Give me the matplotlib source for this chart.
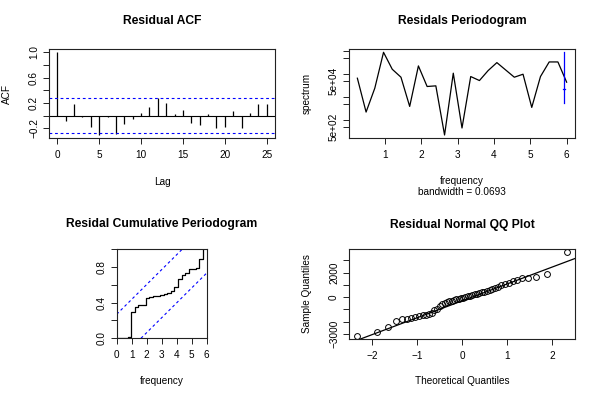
import math
from statistics import NormalDist
import numpy as np
import matplotlib
matplotlib.use("Agg")
import matplotlib.pyplot as plt
from matplotlib.ticker import FixedLocator, FixedFormatter, NullLocator

plt.rcParams['font.family'] = ['Liberation Sans', 'DejaVu Sans']

# ---------------- data ----------------
acf_lags = list(range(26))
acf_values = [1.0, -0.078, 0.19, -0.015, -0.18, -0.30, -0.02, -0.295, -0.125, -0.047,
              0.042, 0.135, 0.286, 0.20, 0.026, 0.083, -0.12, -0.15, 0.02, -0.20,
              -0.18, 0.073, -0.19, 0.04, 0.18, 0.18]
acf_conf = 0.277

spec_freq = [0.24, 0.48, 0.72, 0.96, 1.20, 1.44, 1.68, 1.92, 2.16, 2.40,
             2.64, 2.88, 3.12, 3.36, 3.60, 3.84, 4.08, 4.32, 4.56, 4.80,
             5.04, 5.28, 5.52, 5.76, 6.00]
spec_values = [65000, 2270, 24300, 847000, 158000, 71800, 3970, 220000, 28600, 30500,
               234, 107000, 468, 76700, 51600, 139000, 305000, 148000, 71800, 96600,
               3600, 76700, 326000, 326000, 43900]
bandwidth = 0.0693
spec_df = 2

cum_freq = [0.00, 0.24, 0.48, 0.72, 0.96, 1.20, 1.44, 1.68, 1.92, 2.16, 2.40, 2.64,
            2.88, 3.12, 3.36, 3.60, 3.84, 4.08, 4.32, 4.56, 4.80, 5.04, 5.28, 5.52, 5.76]
cum_values = [0.0, 0.002, 0.003, 0.011, 0.293, 0.348, 0.374, 0.376, 0.448, 0.459,
              0.47, 0.472, 0.49, 0.492, 0.51, 0.526, 0.578, 0.667, 0.707, 0.726,
              0.774, 0.775, 0.785, 0.893, 1.0]
cum_crit = 0.2694
cum_xmax = 6

qq_sample = [-3130, -2823, -2443, -1927, -1791, -1764, -1683, -1601, -1493, -1440,
             -1420, -1390, -1280, -1070, -923, -679, -543, -434, -380, -326,
             -271, -217, -163, -109, -54, -27, 27, 81, 136, 190,
             244, 299, 353, 407, 461, 516, 565, 645, 733, 841,
             977, 1086, 1194, 1303, 1411, 1547, 1601, 1640, 1860, 3650]

# ---------------- figure ----------------
W, H = 600, 400
fig = plt.figure(figsize=(6, 4), dpi=100)
fig.patch.set_facecolor('white')

TICK_FS = 7.2
LAB_FS = 7.2
TITLE_FS = 8.7
BLUE = '#0000FF'


def add_ax(l, t, r, b):
    return fig.add_axes([l / W, 1 - b / H, (r - l) / W, (b - t) / H])


def style(ax):
    for s in ax.spines.values():
        s.set_linewidth(0.8)
        s.set_color('#222222')
    ax.tick_params(direction='out', length=4.2, width=0.7, labelsize=TICK_FS,
                   color='#222222')
    ax.tick_params(axis='x', pad=4.5)
    ax.tick_params(axis='y', pad=3.0, labelrotation=90)
    for lab in ax.get_yticklabels():
        lab.set_va('center')


def set_ticks(ax, axis, ticks, labels):
    a = ax.xaxis if axis == 'x' else ax.yaxis
    a.set_major_locator(FixedLocator(ticks))
    a.set_major_formatter(FixedFormatter(labels))
    a.set_minor_locator(NullLocator())


def labels(ax, xl, xy, yl=None, yx=None):
    ax.set_xlabel(xl, fontsize=LAB_FS, linespacing=1.15)
    ax.xaxis.set_label_coords(0.5, xy)
    ax.xaxis.label.set_va('center')
    if yl is not None:
        ax.set_ylabel(yl, fontsize=LAB_FS)
        ax.yaxis.set_label_coords(yx, 0.5)
        ax.yaxis.label.set_va('center')


def title(text, cx, cy):
    fig.text(cx / W, 1 - cy / H, text, ha='center', va='center',
             fontsize=TITLE_FS, fontweight='bold')


def rlim(lo, hi):
    d = (hi - lo) * 0.04
    return lo - d, hi + d

# ---- ACF ----
ax1 = add_ax(49, 49, 275, 138)
ax1.vlines(acf_lags, 0, acf_values, color='black', lw=0.9)
ax1.axhline(0, color='black', lw=0.8)
for c in (acf_conf, -acf_conf):
    ax1.axhline(c, color=BLUE, lw=0.8, linestyle=(0, (2.5, 2.5)))
ax1.set_xlim(*rlim(0, 25))
ax1.set_ylim(*rlim(min(min(acf_values), -acf_conf), max(max(acf_values), acf_conf)))
set_ticks(ax1, 'x', [0, 5, 10, 15, 20, 25], ['0', '5', '10', '15', '20', '25'])
set_ticks(ax1, 'y', [-0.2, 0.0, 0.2, 0.4, 0.6, 0.8, 1.0],
          ['\u22120.2', '', '0.2', '', '0.6', '', '1.0'])
style(ax1)
labels(ax1, 'Lag', -0.491, 'ACF', -0.1845)
title('Residual ACF', 162, 20.7)

# ---- Periodogram ----
ax2 = add_ax(349, 49, 575, 138.3)
ax2.plot(spec_freq, spec_values, color='black', lw=0.9)
ax2.set_yscale('log')
conf_lo = spec_df / (-2 * math.log(0.025))
conf_hi = spec_df / (-2 * math.log(0.975))
smax = max(spec_values)
cx = max(spec_freq) - bandwidth
cy = smax / conf_hi
ax2.plot([cx, cx], [cy * conf_lo, cy * conf_hi], color=BLUE, lw=0.9)
ax2.plot([cx - bandwidth / 2, cx + bandwidth / 2], [cy, cy], color=BLUE, lw=0.9)
lo, hi = rlim(math.log10(min(min(spec_values), cy * conf_lo)), math.log10(smax))
ax2.set_ylim(10 ** lo, 10 ** hi)
ax2.set_xlim(*rlim(min(spec_freq), max(spec_freq)))
set_ticks(ax2, 'x', [1, 2, 3, 4, 5, 6], ['1', '2', '3', '4', '5', '6'])
set_ticks(ax2, 'y', [5e2, 1e3, 5e3, 1e4, 5e4, 1e5, 5e5, 1e6],
          ['5e+02', '', '', '', '5e+04', '', '', ''])
style(ax2)
labels(ax2, 'frequency\nbandwidth = 0.0693', -0.543, 'spectrum', -0.187)
title('Residals Periodogram', 462, 20.7)

# ---- Cumulative periodogram ----
ax3 = add_ax(116.7, 249, 206.7, 338.3)
ax3.step(cum_freq, cum_values, where='post', color='black', lw=0.9)
ax3.plot([0, cum_xmax * (1 - cum_crit)], [cum_crit, 1], color=BLUE, lw=0.8,
         linestyle=(0, (2.5, 2.5)))
ax3.plot([cum_xmax * cum_crit, cum_xmax], [0, 1 - cum_crit], color=BLUE, lw=0.8,
         linestyle=(0, (2.5, 2.5)))
ax3.set_xlim(0, cum_xmax)
ax3.set_ylim(0, 1)
set_ticks(ax3, 'x', [0, 1, 2, 3, 4, 5, 6], ['0', '1', '2', '3', '4', '5', '6'])
set_ticks(ax3, 'y', [0, 0.2, 0.4, 0.6, 0.8, 1.0], ['0.0', '', '0.4', '', '0.8', ''])
style(ax3)
labels(ax3, 'frequency', -0.478)
title('Residal Cumulative Periodogram', 161.7, 224.3)

# ---- QQ plot ----
ax4 = add_ax(349, 249, 575, 339)
n = len(qq_sample)
nd = NormalDist()
theo = [nd.inv_cdf((i + 0.5) / n) for i in range(n)]
ax4.plot(theo, qq_sample, linestyle='none', marker='o', markersize=4.2,
         markerfacecolor='none', markeredgecolor='black', markeredgewidth=0.7)
q1, q3 = np.percentile(qq_sample, [25, 75])
t1, t3 = nd.inv_cdf(0.25), nd.inv_cdf(0.75)
slope = (q3 - q1) / (t3 - t1)
inter = q1 - slope * t1
ax4.axline((0, inter), slope=slope, color='black', lw=0.9)
ax4.set_xlim(*rlim(min(theo), max(theo)))
ax4.set_ylim(*rlim(min(qq_sample), max(qq_sample)))
set_ticks(ax4, 'x', [-2, -1, 0, 1, 2], ['\u22122', '\u22121', '0', '1', '2'])
set_ticks(ax4, 'y', [-3000, -2000, -1000, 0, 1000, 2000, 3000],
          ['\u22123000', '', '', '0', '', '2000', ''])
style(ax4)
labels(ax4, 'Theoretical Quantiles', -0.467, 'Sample Quantiles', -0.1845)
title('Residual Normal QQ Plot', 462, 225)

fig.savefig('out.png', dpi=100, facecolor='white')
